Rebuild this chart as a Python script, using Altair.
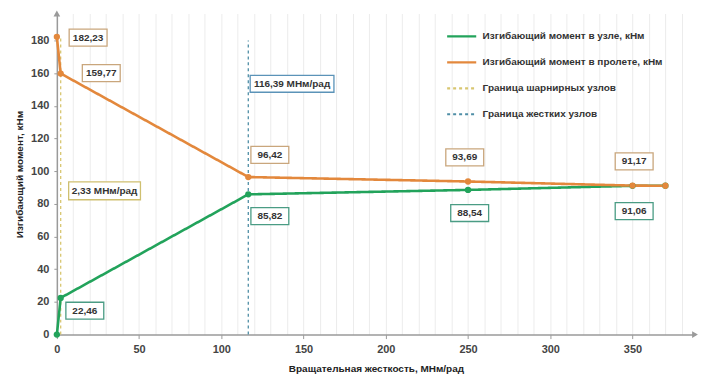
import altair as alt
import pandas as pd

# ---- data ----
stiffness = [0, 2.33, 116.39, 250, 350, 370]
moment_node = [0, 22.46, 85.82, 88.54, 91.06, 91.1]
moment_span = [182.23, 159.77, 96.42, 93.69, 91.17, 91.1]

series_names = [
    "Изгибающий момент в узле, кНм",
    "Изгибающий момент в пролете, кНм",
    "Граница шарнирных узлов",
    "Граница жестких узлов",
]
series_colors = ["#22a35b", "#e3883c", "#d8c670", "#4f8ea6"]
series_dash = [[1, 0], [1, 0], [3, 3], [3, 3]]

boundary_x = [2.33, 116.39]
boundary_top = [182, 180]

label_texts = ["182,23", "159,77", "2,33 МНм/рад", "22,46", "116,39 МНм/рад",
               "96,42", "85,82", "93,69", "88,54", "91,17", "91,06"]
label_x = [19, 27, 29, 17, 143, 129.5, 129.5, 248, 251, 351, 351]
label_y = [181.7, 160, 88, 14.6, 153.5, 110, 72.5, 108.5, 74.4, 106, 75.6]
label_kind = ["span", "span", "hinge", "node", "rigid", "span", "node",
              "span", "node", "span", "node"]
kind_names = ["span", "node", "hinge", "rigid"]
kind_borders = ["#c9a67c", "#4a9c84", "#cfc070", "#5b93b8"]

x_max = 388
y_max = 196.5

# ---- tables ----
lines_df = pd.DataFrame({
    "x": stiffness * 2,
    "y": moment_node + moment_span,
    "series": [series_names[0]] * len(stiffness) + [series_names[1]] * len(stiffness),
})
rules_df = pd.DataFrame({
    "x": boundary_x,
    "y": [0, 0],
    "y1": boundary_top,
    "series": series_names[2:],
})
labels_df = pd.DataFrame({"text": label_texts, "x": label_x, "y": label_y, "kind": label_kind})
xend_df = pd.DataFrame({"x": [x_max], "y": [0]})
yend_df = pd.DataFrame({"x": [0], "y": [y_max]})

xscale = alt.Scale(domain=[0, x_max], nice=False, zero=True)
yscale = alt.Scale(domain=[0, y_max], nice=False)
color_scale = alt.Scale(domain=series_names, range=series_colors)
dash_scale = alt.Scale(domain=series_names, range=series_dash)

legend = alt.Legend(
    title=None, orient="none", legendX=390, legendY=7,
    labelFont="Liberation Sans", labelFontSize=10, labelFontWeight="bold",
    labelColor="#333333", rowPadding=5, symbolSize=850, symbolStrokeWidth=2.2,
    labelLimit=300, labelOffset=5,
)

x_axis = alt.Axis(
    title="Вращательная жесткость, МНм/рад",
    values=list(range(0, 390, 10)),
    labelExpr="datum.value % 50 == 0 ? datum.label : ''",
    labelOverlap=False, labelBound=False, labelFlush=False,
    grid=True, gridColor="#ececec", gridWidth=1,
    tickOpacity={"condition": {"test": "datum.value % 50 == 0", "value": 1}, "value": 0},
    tickSize=4, labelPadding=5, titlePadding=9,
)
y_axis = alt.Axis(
    title="Изгибающий момент, кНм",
    values=list(range(0, 200, 20)), grid=False, tickSize=3, labelPadding=5, titlePadding=6,
    labelOverlap=False, labelBound=False, labelFlush=False,
)

X = alt.X("x:Q", scale=xscale, axis=x_axis)
Y = alt.Y("y:Q", scale=yscale, axis=y_axis)

rules = alt.Chart(rules_df).mark_rule(strokeWidth=1.3).encode(
    x=X, y=Y, y2="y1:Q",
    color=alt.Color("series:N", scale=color_scale, legend=legend),
    strokeDash=alt.StrokeDash("series:N", scale=dash_scale, legend=legend),
)
lines = alt.Chart(lines_df).mark_line(strokeWidth=2.6).encode(
    x=X, y=Y,
    color=alt.Color("series:N", scale=color_scale, legend=legend),
    strokeDash=alt.StrokeDash("series:N", scale=dash_scale, legend=legend),
)
points = alt.Chart(lines_df).mark_circle(size=40, opacity=1).encode(
    x=X, y=Y,
    color=alt.Color("series:N", scale=color_scale, legend=None),
)

stroke_scale = alt.Scale(domain=kind_names, range=kind_borders)
short_box = alt.Chart(labels_df).transform_filter(
    "datum.kind == 'span' || datum.kind == 'node'"
).mark_rect(width=38, height=17, fill="white", strokeWidth=1.3).encode(
    x=X, y=Y, stroke=alt.Stroke("kind:N", scale=stroke_scale, legend=None)
)
hinge_box = alt.Chart(labels_df).transform_filter("datum.kind == 'hinge'").mark_rect(
    width=72, height=18, fill="white", strokeWidth=1.3
).encode(x=X, y=Y, stroke=alt.Stroke("kind:N", scale=stroke_scale, legend=None))
rigid_box = alt.Chart(labels_df).transform_filter("datum.kind == 'rigid'").mark_rect(
    width=84, height=17, fill="white", strokeWidth=1.3
).encode(x=X, y=Y, stroke=alt.Stroke("kind:N", scale=stroke_scale, legend=None))
texts = alt.Chart(labels_df).mark_text(
    font="Liberation Sans", fontSize=10, fontWeight="bold", color="#333333"
).encode(x=X, y=Y, text="text:N")

x_arrow = alt.Chart(xend_df).mark_point(
    shape="triangle-right", size=45, filled=True, color="#9a9a9a", opacity=1
).encode(x=X, y=Y)
y_arrow = alt.Chart(yend_df).mark_point(
    shape="triangle-up", size=45, filled=True, color="#9a9a9a", opacity=1
).encode(x=X, y=Y)

chart = alt.layer(
    rules, lines, points, short_box, hinge_box, rigid_box, texts, x_arrow, y_arrow
).resolve_scale(stroke="independent").properties(
    width=640, height=322, padding={"left": 6, "top": 2, "right": 0, "bottom": 0}
).configure_view(stroke=None).configure_axis(
    labelFont="Liberation Sans", labelFontSize=11, labelFontWeight="bold",
    labelColor="#444444", titleFont="Liberation Sans", titleFontSize=10,
    titleFontWeight="bold", titleColor="#222222", domainColor="#9a9a9a",
    domainWidth=1.5, tickColor="#9a9a9a",
)

chart.save("out.html", embed_options={"renderer": "svg", "actions": False})
